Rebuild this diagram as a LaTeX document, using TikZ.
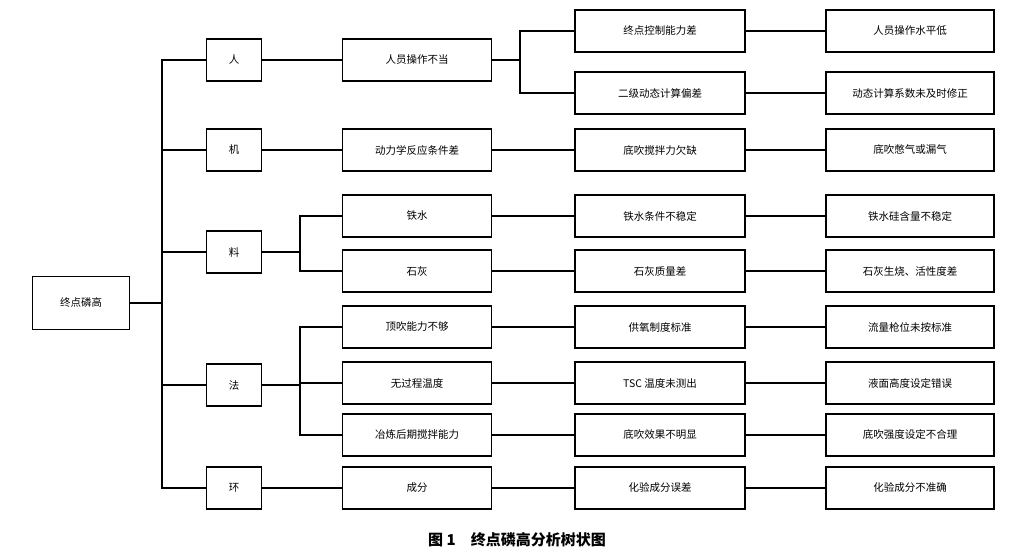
\documentclass[tikz,border=0pt]{standalone}
\usepackage{fontspec}
\setmainfont{Noto Sans CJK SC}
\begin{document}
\begin{tikzpicture}[x=1pt,y=-1pt,
 bx/.style={draw,line width=1.1pt,minimum height=42pt,font=\fontsize{10.5}{12}\selectfont,inner sep=0pt},
 b1/.style={bx,minimum width=55pt},
 b2/.style={bx,minimum width=149pt},
 b3/.style={bx,minimum width=170pt},
 b4/.style={bx,minimum width=168pt},
 ln/.style={line width=1.1pt}]
\useasboundingbox (0,0) rectangle (1035,557);
\node[bx,minimum width=97pt,minimum height=53pt] (r) at (81,303) {终点磷高};
\node[b1] (p) at (234,60) {人};
\node[b1] (m) at (234,150) {机};
\node[b1] (l) at (234,252) {料};
\node[b1] (f) at (234,385) {法};
\node[b1] (h) at (234,488) {环};
\node[b2] (a2) at (417,60) {人员操作不当};
\node[b2] (b2) at (417,150) {动力学反应条件差};
\node[b2] (c2) at (417,216) {铁水};
\node[b2] (d2) at (417,271) {石灰};
\node[b2] (e2) at (417,327) {顶吹能力不够};
\node[b2] (g2) at (417,383) {无过程温度};
\node[b2] (i2) at (417,435) {冶炼后期搅拌能力};
\node[b2] (j2) at (417,488) {成分};
\node[b3] (a3) at (660,31) {终点控制能力差};
\node[b3] (k3) at (660,93) {二级动态计算偏差};
\node[b3] (b3) at (660,150) {底吹搅拌力欠缺};
\node[b3] (c3) at (660,216) {铁水条件不稳定};
\node[b3] (d3) at (660,271) {石灰质量差};
\node[b3] (e3) at (660,327) {供氧制度标准};
\node[b3] (g3) at (660,383) {TSC 温度未测出};
\node[b3] (i3) at (660,435) {底吹效果不明显};
\node[b3] (j3) at (660,488) {化验成分误差};
\node[b4] (a4) at (910,31) {人员操作水平低};
\node[b4] (k4) at (910,93) {动态计算系数未及时修正};
\node[b4] (b4) at (910,150) {底吹憋气或漏气};
\node[b4] (c4) at (910,216) {铁水硅含量不稳定};
\node[b4] (d4) at (910,271) {石灰生烧、活性度差};
\node[b4] (e4) at (910,327) {流量枪位未按标准};
\node[b4] (g4) at (910,383) {液面高度设定错误};
\node[b4] (i4) at (910,435) {底吹强度设定不合理};
\node[b4] (j4) at (910,488) {化验成分不准确};
\node[font=\fontsize{15}{17}\selectfont\bfseries] (cap) at (517,540) {图 1\quad 终点磷高分析树状图};
\coordinate (t) at (162,303);
\draw[ln] (r.east) -- (t);
\foreach \n in {p,m,l,f,h} \draw[ln] (t) |- (\n.west);
\draw[ln] (p.east) -- (a2.west);
\draw[ln] (m.east) -- (b2.west);
\draw[ln] (h.east) -- (j2.west);
\coordinate (tl) at (300,252);
\draw[ln] (l.east) -- (tl);
\foreach \n in {c2,d2} \draw[ln] (tl) |- (\n.west);
\coordinate (tf) at (300,385);
\draw[ln] (f.east) -- (tf);
\foreach \n in {e2,g2,i2} \draw[ln] (tf) |- (\n.west);
\coordinate (ta) at (520,60);
\draw[ln] (a2.east) -- (ta);
\foreach \n in {a3,k3} \draw[ln] (ta) |- (\n.west);
\foreach \x in {b,c,d,e,g,i,j} \draw[ln] (\x2.east) -- (\x3.west);
\foreach \x in {a,k,b,c,d,e,g,i,j} \draw[ln] (\x3.east) -- (\x4.west);
\end{tikzpicture}
\end{document}
